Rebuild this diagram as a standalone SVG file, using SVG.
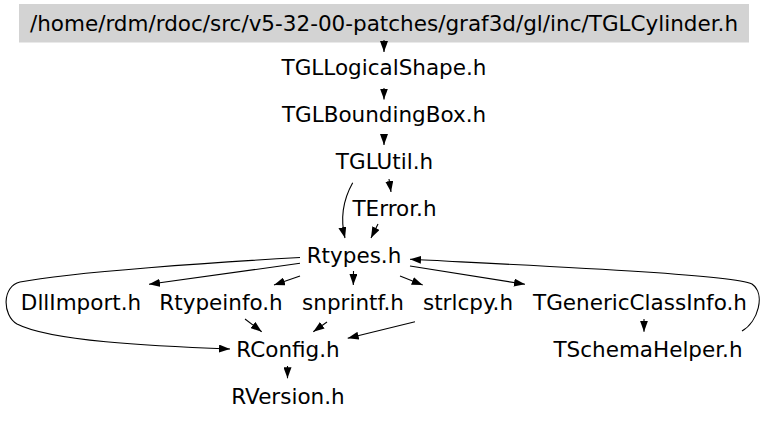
<svg xmlns="http://www.w3.org/2000/svg" width="768" height="421" viewBox="0 0 768 421">
<style>
text{font-family:"DejaVu Sans","Liberation Sans",sans-serif;font-size:21.5px;fill:#000;text-anchor:middle}
.e{fill:none;stroke:#000;stroke-width:1.1;marker-end:url(#ah)}
</style>
<defs>
<marker id="ah" viewBox="0 0 11 8" refX="11" refY="4" markerWidth="11" markerHeight="8" markerUnits="userSpaceOnUse" orient="auto">
<path d="M0,0 L11,4 L0,8 z" fill="#000"/>
</marker>
</defs>
<rect width="768" height="421" fill="#fff"/>
<g id="node-TGLCylinder"><rect x="19" y="4" width="730" height="38.5" fill="#d3d3d3"/><text x="384" y="30.5">/home/rdm/rdoc/src/v5-32-00-patches/graf3d/gl/inc/TGLCylinder.h</text></g>
<g id="node-TGLLogicalShape"><text x="384" y="75">TGLLogicalShape.h</text></g>
<g id="node-TGLBoundingBox"><text x="384" y="121.7">TGLBoundingBox.h</text></g>
<g id="node-TGLUtil"><text x="384.5" y="169">TGLUtil.h</text></g>
<g id="node-TError"><text x="394.5" y="216">TError.h</text></g>
<g id="node-Rtypes"><text x="354" y="262.7">Rtypes.h</text></g>
<g id="node-DllImport"><text x="81" y="310">DllImport.h</text></g>
<g id="node-Rtypeinfo"><text x="221" y="310">Rtypeinfo.h</text></g>
<g id="node-snprintf"><text x="353" y="310">snprintf.h</text></g>
<g id="node-strlcpy"><text x="468" y="310">strlcpy.h</text></g>
<g id="node-TGenericClassInfo"><text x="640" y="309.5">TGenericClassInfo.h</text></g>
<g id="node-RConfig"><text x="288" y="357">RConfig.h</text></g>
<g id="node-TSchemaHelper"><text x="648" y="357">TSchemaHelper.h</text></g>
<g id="node-RVersion"><text x="288" y="404.3">RVersion.h</text></g>
<g id="edges">
<path class="e" d="M384,40 L384,52"/>
<path class="e" d="M384,88 L384,99.5"/>
<path class="e" d="M384,134 L384,145"/>
<path class="e" d="M352.7,182.7 C343,200 340,218 345,238"/>
<path class="e" d="M389,179 L391,192"/>
<path class="e" d="M378,224 L371,238"/>
<path class="e" d="M300,263.3 L149,284.3"/>
<path class="e" d="M300,276 L274,285"/>
<path class="e" d="M353.5,271 L353.3,285"/>
<path class="e" d="M400,276 L422.7,285"/>
<path class="e" d="M410,266 L525,284.3"/>
<path class="e" d="M300,257.5 C220,262 70,272 20,282 C2,286 2,315 17,324 C50,341 150,346 230,349"/>
<path class="e" d="M245,319 L261.7,331.7"/>
<path class="e" d="M327,322 L313.3,331.7"/>
<path class="e" d="M415,321.7 L347.7,338.3"/>
<path class="e" d="M287.5,366 L287.5,378.3"/>
<path class="e" d="M644,319 L644,331.7"/>
<path class="e" d="M742,331 C758,322 766,294 752,284 C730,274 520,265 410,259.3"/>
</g>
</svg>
